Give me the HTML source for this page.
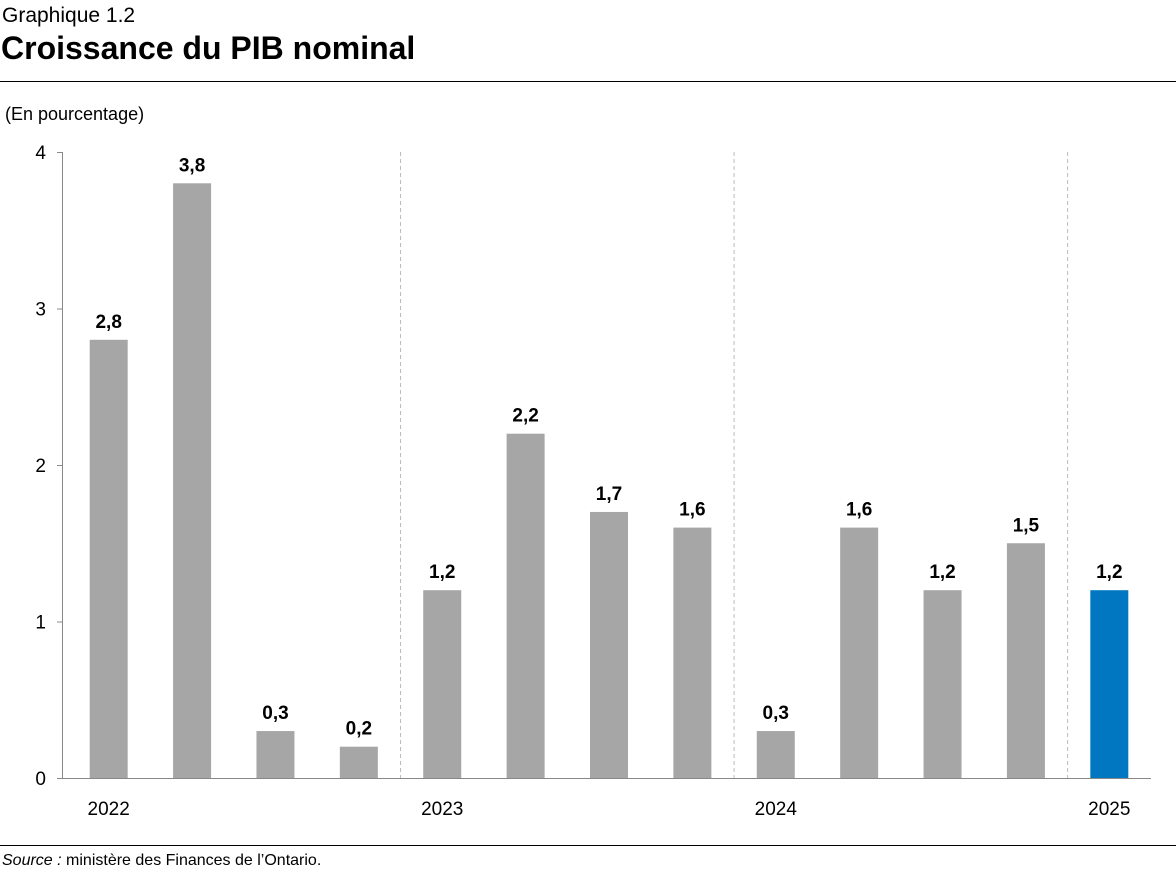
<!DOCTYPE html>
<html><head><meta charset="utf-8">
<style>
body{margin:0;background:#fff;font-family:"Liberation Sans",sans-serif;}
#wrap{position:relative;width:1176px;height:888px;overflow:hidden;}
.t1{position:absolute;left:2px;top:4px;font-size:21px;color:#000;}
.t2{position:absolute;left:1px;top:30px;font-size:32px;font-weight:bold;color:#000;}
.hr{position:absolute;left:0;width:1176px;height:1px;background:#000;}
.src{position:absolute;left:2px;top:852px;font-size:16px;}
</style></head><body>
<div id="wrap">
<div class="t1">Graphique 1.2</div>
<div class="t2">Croissance du PIB nominal</div>
<div class="hr" style="top:81px"></div>
<svg id="svg" width="1176" height="888" style="position:absolute;left:0;top:0"></svg>
<div class="hr" style="top:845px"></div>
<div class="src"><i>Source :</i> ministère des Finances de l’Ontario.</div>
</div>
<script>
const categories=["2022T1","2022T2","2022T3","2022T4","2023T1","2023T2","2023T3","2023T4","2024T1","2024T2","2024T3","2024T4","2025T1"];
const values=[2.8,3.8,0.3,0.2,1.2,2.2,1.7,1.6,0.3,1.6,1.2,1.5,1.2];
const valueLabels=["2,8","3,8","0,3","0,2","1,2","2,2","1,7","1,6","0,3","1,6","1,2","1,5","1,2"];
const yTicks=[0,1,2,3,4];
const yearLabels=["2022","2023","2024","2025"];
const yearIndex=[0,4,8,12];

const svg=document.getElementById('svg');
const NS='http://www.w3.org/2000/svg';
const x0=67,x1=1151,yBase=778,yTop=152,yMax=4;
const step=(x1-x0)/categories.length,bw=38;
const y=v=>yBase-(v/yMax)*(yBase-yTop);
const xc=i=>x0+step*(i+0.5);
function mk(tag,attrs,name){const e=document.createElementNS(NS,tag);for(const k in attrs)e.setAttribute(k,attrs[k]);


svg.appendChild(e);return e;}
// y label
let yl=mk('text',{x:5,y:120,'font-size':18,'font-family':'Liberation Sans'},'y-axis-unit');yl.textContent='(En pourcentage)';
// dividers
[4,8,12].forEach(i=>{const xd=x0+step*i;mk('line',{x1:xd,x2:xd,y1:yTop,y2:yBase,stroke:'#bbb','stroke-dasharray':'4,3','stroke-width':1},'year-divider');});
// axes
mk('line',{x1:62.5,x2:62.5,y1:yTop,y2:yBase,stroke:'#888','stroke-width':1},'y-axis-line');
mk('line',{x1:62,x2:x1,y1:yBase+0.5,y2:yBase+0.5,stroke:'#888','stroke-width':1},'x-axis-line');
yTicks.forEach(t=>{mk('line',{x1:57,x2:62,y1:y(t)+0.5,y2:y(t)+0.5,stroke:'#888'},'y-tick');
const tx=mk('text',{x:46,y:y(t)+7,'font-size':19,'text-anchor':'end','font-family':'Liberation Sans'},'y-tick-label');tx.textContent=t;});
values.forEach((v,i)=>{
mk('rect',{x:xc(i)-bw/2,y:y(v),width:bw,height:yBase-y(v),fill:i==12?'#0277c1':'#a6a6a6'},'bar-'+categories[i]);
const t=mk('text',{x:xc(i),y:y(v)-12,'font-size':19,'font-weight':'bold','text-anchor':'middle','font-family':'Liberation Sans'},'value-label');t.textContent=valueLabels[i];});
yearLabels.forEach((l,k)=>{const t=mk('text',{x:xc(yearIndex[k]),y:815,'font-size':19,'text-anchor':'middle','font-family':'Liberation Sans'},'x-year-label');t.textContent=l;});
</script>
</body></html>
